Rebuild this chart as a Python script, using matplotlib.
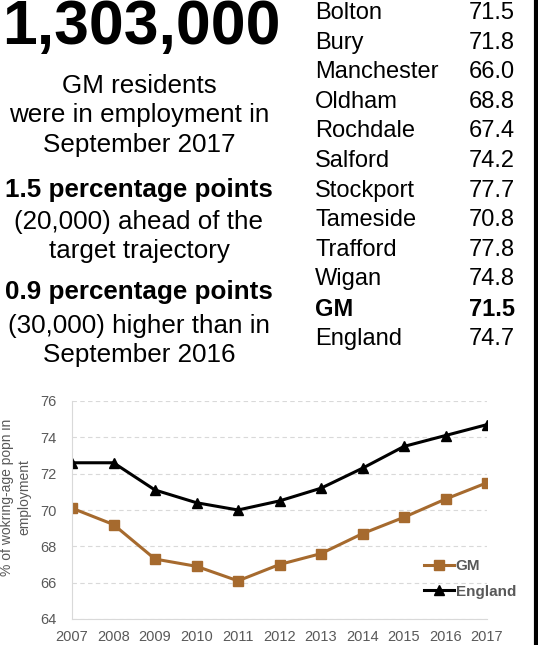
import matplotlib
matplotlib.use("Agg")
import matplotlib.pyplot as plt
from matplotlib.lines import Line2D

plt.rcParams['font.family'] = ['Liberation Sans', 'DejaVu Sans']

years = [2007, 2008, 2009, 2010, 2011, 2012, 2013, 2014, 2015, 2016, 2017]
gm_rate = [70.1, 69.2, 67.3, 66.9, 66.1, 67.0, 67.6, 68.7, 69.6, 70.6, 71.5]
england_rate = [72.6, 72.6, 71.1, 70.4, 70.0, 70.5, 71.2, 72.3, 73.5, 74.1, 74.7]

districts = ["Bolton", "Bury", "Manchester", "Oldham", "Rochdale", "Salford",
             "Stockport", "Tameside", "Trafford", "Wigan", "GM", "England"]
district_rates = ["71.5", "71.8", "66.0", "68.8", "67.4", "74.2",
                  "77.7", "70.8", "77.8", "74.8", "71.5", "74.7"]

yticks = [64, 66, 68, 70, 72, 74, 76]

W, H = 538, 645
fig = plt.figure(figsize=(W / 100, H / 100), dpi=100)
fig.patch.set_facecolor('white')

def px(x, y):
    return x / W, 1 - y / H

# headline text
fig.text(*px(141, 28), "1,303,000", fontsize=45, fontweight='bold', ha='center', va='center')
lines = [
    ("GM residents", 93, 'normal'),
    ("were in employment in", 122, 'normal'),
    ("September 2017", 152, 'normal'),
    ("1.5 percentage points", 197, 'bold'),
    ("(20,000) ahead of the", 229, 'normal'),
    ("target trajectory", 258, 'normal'),
    ("0.9 percentage points", 299, 'bold'),
    ("(30,000) higher than in", 333, 'normal'),
    ("September 2016", 362, 'normal'),
]
for txt, yb, wt in lines:
    fig.text(*px(139, yb), txt, fontsize=18.7, fontweight=wt, ha='center', va='baseline')

# district table
for i, (name, val) in enumerate(zip(districts, district_rates)):
    yc = 13 + i * 29.6
    wt = 'bold' if name == "GM" else 'normal'
    fig.text(*px(315, yc), name, fontsize=17, fontweight=wt, ha='left', va='center')
    fig.text(*px(515, yc), val, fontsize=17, fontweight=wt, ha='right', va='center')

# right border line
fig.add_artist(Line2D([535.5 / W, 535.5 / W], [0, 1], color='black', lw=3, transform=fig.transFigure))

# chart
ax = fig.add_axes([72 / W, 1 - 619 / H, (487 - 72) / W, (619 - 401) / H])
gm_color = '#A66A2E'
ax.plot(years, gm_rate, color=gm_color, lw=2.2, marker='s', markersize=7, label='GM')
ax.plot(years, england_rate, color='black', lw=2.2, marker='^', markersize=7.5, label='England')
ax.set_xlim(2007, 2017)
ax.set_ylim(64, 76)
ax.set_yticks(yticks)
ax.set_xticks(years)
ax.yaxis.grid(True, color='#D9D9D9', linestyle=(0, (4, 3)), lw=0.8)
ax.set_axisbelow(True)
for s in ['top', 'right']:
    ax.spines[s].set_visible(False)
ax.spines['left'].set_color('#D9D9D9')
ax.spines['bottom'].set_color('#D9D9D9')
ax.tick_params(axis='both', length=0, colors='#595959', labelsize=10.5)
ax.tick_params(axis='x', pad=8)
ax.tick_params(axis='y', pad=11)
for lab in ax.get_xticklabels() + ax.get_yticklabels():
    lab.set_clip_on(False)
fig.text(*px(16, 497), "% of wokring-age popn in\nemployment", fontsize=10, color='#595959',
         rotation=90, ha='center', va='center', multialignment='center', linespacing=1.3)
leg = ax.legend(loc='lower right', frameon=False, fontsize=11, handlelength=2.0,
                handletextpad=0.1, borderaxespad=0.0, bbox_to_anchor=(1.085, 0.065),
                labelspacing=0.75)
for t in leg.get_texts():
    t.set_color('#595959')
    t.set_fontweight('bold')

fig.savefig('out.png', dpi=100)
